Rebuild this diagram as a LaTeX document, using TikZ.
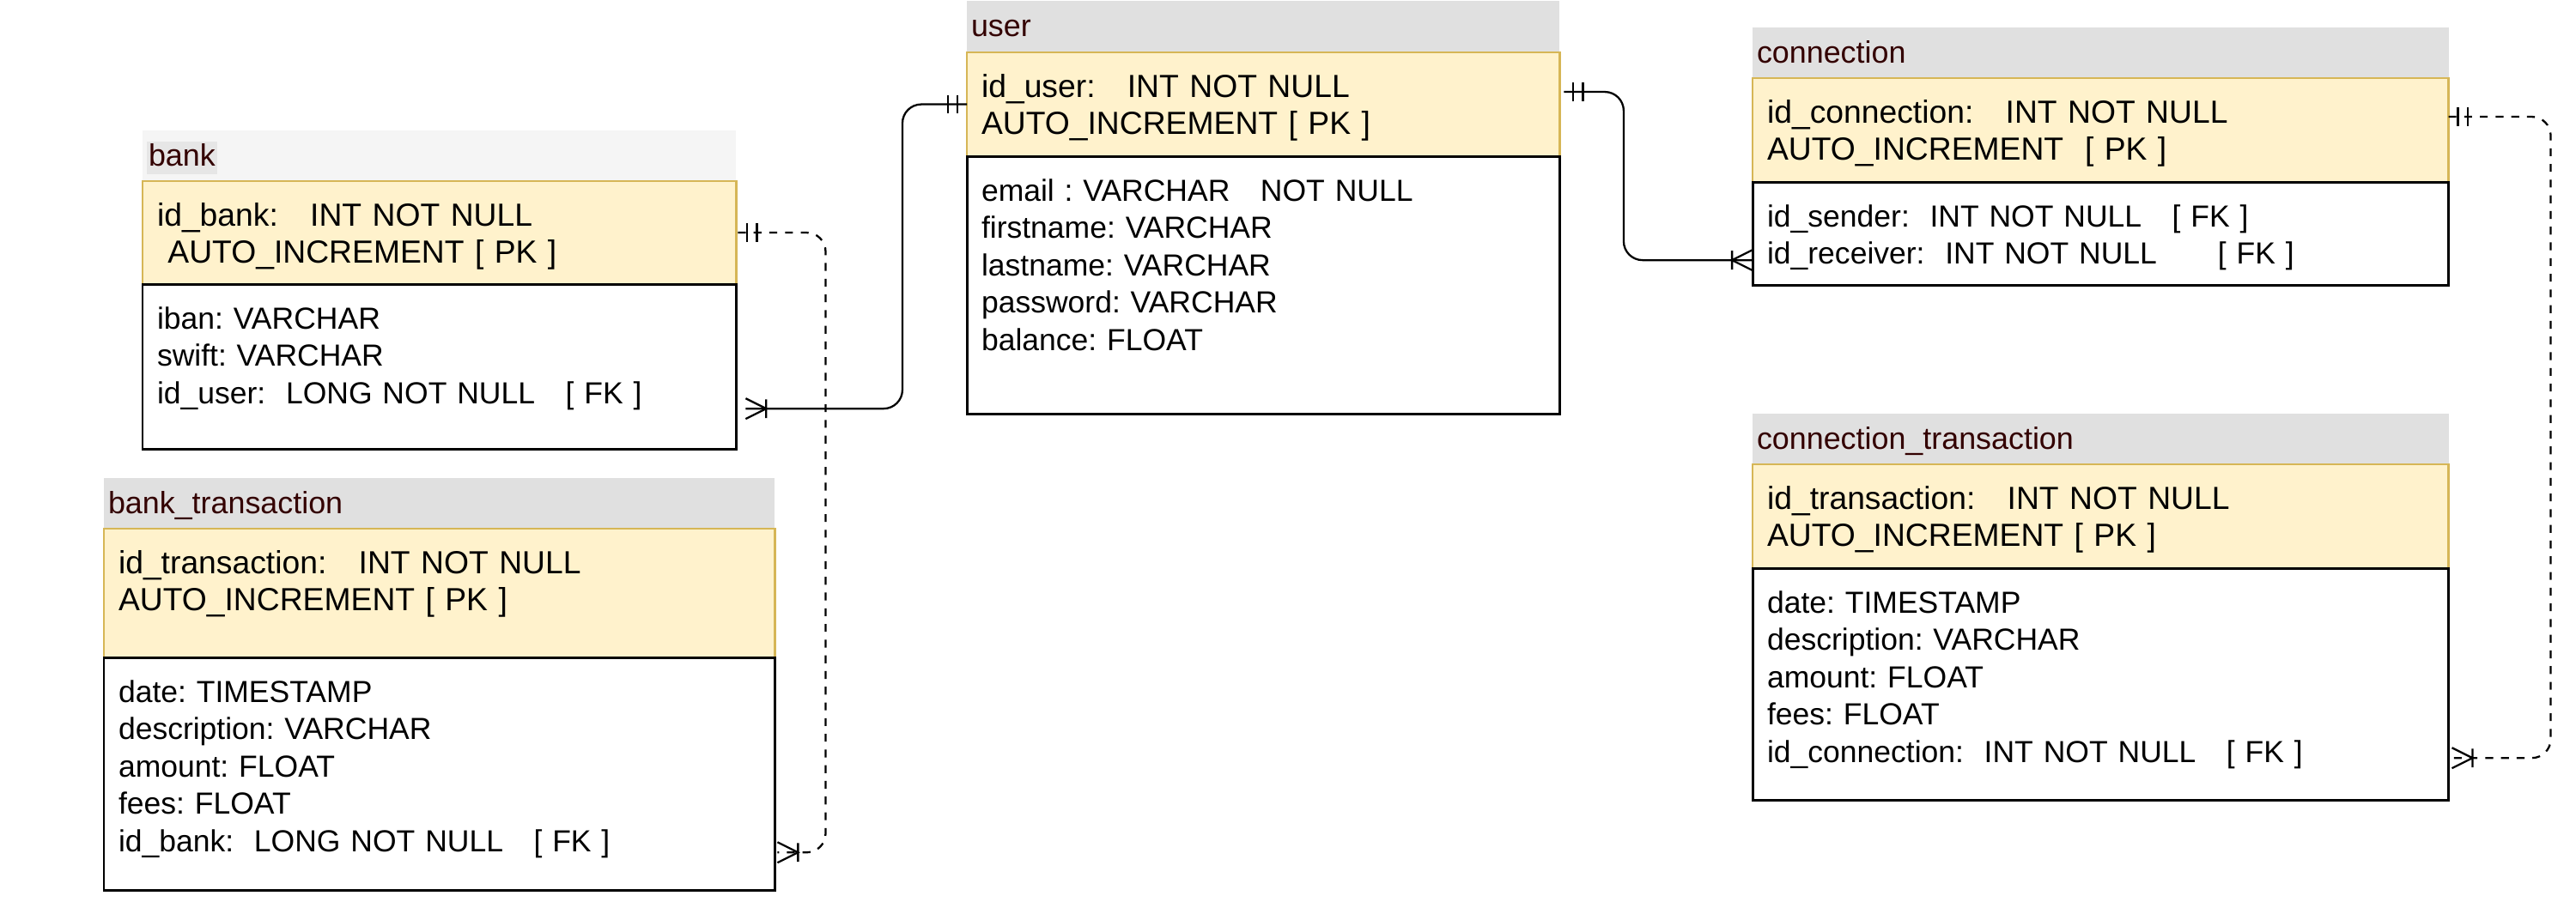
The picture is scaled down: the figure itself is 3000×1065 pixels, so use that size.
\documentclass[tikz,border=0pt]{standalone}
\usepackage{fontspec}
\setmainfont{Liberation Sans}
\frenchspacing
\usetikzlibrary{positioning,calc}
\definecolor{hdrgray}{HTML}{E0E0E0}
\definecolor{hdrlight}{HTML}{F5F5F5}
\definecolor{hdrmark}{HTML}{E6E6E6}
\definecolor{hdrtext}{HTML}{330000}
\definecolor{pkfill}{HTML}{FFF2CC}
\definecolor{pkline}{HTML}{D6B656}
\pgfdeclarearrow{
  name = erone,
  setup code = {
    \pgfarrowssettipend{0pt}
    \pgfarrowssetlineend{0pt}
    \pgfarrowssetbackend{-6.6pt}
  },
  drawing code = {
    \pgfsetdash{}{0pt}
    \pgfpathmoveto{\pgfqpoint{-3.1pt}{3.1pt}}
    \pgfpathlineto{\pgfqpoint{-3.1pt}{-3.1pt}}
    \pgfpathmoveto{\pgfqpoint{-6.3pt}{3.1pt}}
    \pgfpathlineto{\pgfqpoint{-6.3pt}{-3.1pt}}
    \pgfusepathqstroke
  }
}
\pgfdeclarearrow{
  name = ermany,
  setup code = {
    \pgfarrowssettipend{0pt}
    \pgfarrowssetlineend{0pt}
    \pgfarrowssetbackend{-7pt}
  },
  drawing code = {
    \pgfsetdash{}{0pt}
    \pgfpathmoveto{\pgfqpoint{0pt}{3.4pt}}
    \pgfpathlineto{\pgfqpoint{-6.8pt}{0pt}}
    \pgfpathlineto{\pgfqpoint{0pt}{-3.4pt}}
    \pgfpathmoveto{\pgfqpoint{-6.8pt}{3.1pt}}
    \pgfpathlineto{\pgfqpoint{-6.8pt}{-3.1pt}}
    \pgfusepathqstroke
  }
}
\tikzset{
header/.style = {fill=hdrgray, text=hdrtext, font=\fontsize{10.2}{12.4}\selectfont, inner sep=0pt, inner xsep=0.05cm, outer sep=0pt, text height=0.41cm, text depth=0.18cm, align=left},
pkbox/.style = {draw=pkline, line width=0.7pt, fill=pkfill, font=\fontsize{10.6}{12.3}\selectfont, inner sep=0pt, inner xsep=0.17cm, outer sep=0pt, text height=0.52cm, align=left},
attrbox/.style = {draw, line width=0.85pt, fill=white, font=\fontsize{10.1}{12.4}\selectfont, inner sep=0pt, inner xsep=0.17cm, outer sep=0pt, text height=0.52cm, align=left},
link/.style = {line width=0.65pt, rounded corners=0.22cm},
dlink/.style = {link, dash pattern=on 2.6pt off 2.6pt}
}
\begin{document}
\begin{tikzpicture}[x=0.01cm, y=-0.01cm]
				\useasboundingbox (0,0) rectangle (3000,1065);
				\node[header, fill=hdrlight, anchor=north west, text width=6.81cm] (bank-t) at (166,152) {{\setlength{\fboxsep}{0.02cm}\colorbox{hdrmark}{\rule[-0.08cm]{0pt}{0.32cm}bank}}};
				\node[pkbox, below=0pt of bank-t, text width=6.57cm, text depth=0.68cm] (bank-k) {id\_bank:~~~INT NOT NULL\\ ~AUTO\_INCREMENT [ PK ]};
				\node[attrbox, below=0pt of bank-k, text width=6.57cm, text depth=1.40cm] (bank-a) {iban: VARCHAR\\ swift: VARCHAR\\ id\_user:~~LONG NOT NULL~~~[ FK ]};
				\node[header, anchor=north west, text width=7.71cm] (btx-t) at (121,557) {bank\_transaction};
				\node[pkbox, below=0pt of btx-t, text width=7.47cm, text depth=0.98cm] (btx-k) {id\_transaction:~~~INT NOT NULL\\ AUTO\_INCREMENT [ PK ]};
				\node[attrbox, below=0pt of btx-k, text width=7.47cm, text depth=2.19cm] (btx-a) {date: TIMESTAMP\\ description: VARCHAR\\ amount: FLOAT\\ fees: FLOAT\\ id\_bank:~~LONG NOT NULL~~~[ FK ]};
				\node[header, anchor=north west, text width=6.80cm, text depth=0.19cm] (user-t) at (1126,1) {user};
				\node[pkbox, below=0pt of user-t, text width=6.56cm, text depth=0.69cm] (user-k) {id\_user:~~~INT NOT NULL\\ AUTO\_INCREMENT [ PK ]};
				\node[attrbox, below=0pt of user-k, text width=6.56cm, text depth=2.48cm] (user-a) {email : VARCHAR~~~NOT NULL\\ firstname: VARCHAR\\ lastname: VARCHAR\\ password: VARCHAR\\ balance: FLOAT};
				\node[header, anchor=north west, text width=8.00cm] (conn-t) at (2041,32) {connection};
				\node[pkbox, below=0pt of conn-t, text width=7.76cm, text depth=0.69cm] (conn-k) {id\_connection:~~~INT NOT NULL\\ AUTO\_INCREMENT~~[ PK ]};
				\node[attrbox, below=0pt of conn-k, text width=7.76cm, text depth=0.68cm] (conn-a) {id\_sender:~~INT NOT NULL~~~[ FK ]\\ id\_receiver:~~INT NOT NULL~~~~~~[ FK ]};
				\node[header, anchor=north west, text width=8.00cm] (ctx-t) at (2041,482) {connection\_transaction};
				\node[pkbox, below=0pt of ctx-t, text width=7.76cm, text depth=0.69cm] (ctx-k) {id\_transaction:~~~INT NOT NULL\\ AUTO\_INCREMENT [ PK ]};
				\node[attrbox, below=0pt of ctx-k, text width=7.76cm, text depth=2.18cm] (ctx-a) {date: TIMESTAMP\\ description: VARCHAR\\ amount: FLOAT\\ fees: FLOAT\\ id\_connection:~~INT NOT NULL~~~[ FK ]};
				\draw[link, ermany-erone] ([xshift=0.11cm,yshift=-1.45cm]bank-a.north east) -| ([xshift=-0.75cm]user-k.west) -- (user-k.west);
				\draw[link, erone-ermany] ([xshift=0.05cm,yshift=-0.46cm]user-k.north east) -| ([xshift=-1.5cm,yshift=-0.91cm]conn-a.north west) -- ([yshift=-0.91cm]conn-a.north west);
				\draw[dlink, erone-ermany] ([xshift=0.02cm]bank-k.east) -| ([xshift=0.59cm,yshift=-2.27cm]btx-a.north east) -- ([xshift=0.03cm,yshift=-2.27cm]btx-a.north east);
				\draw[dlink, erone-ermany] ([yshift=-0.45cm]conn-k.north east) -| ([xshift=1.19cm,yshift=-2.21cm]ctx-a.north east) -- ([xshift=0.04cm,yshift=-2.21cm]ctx-a.north east);
\end{tikzpicture}
\end{document}
